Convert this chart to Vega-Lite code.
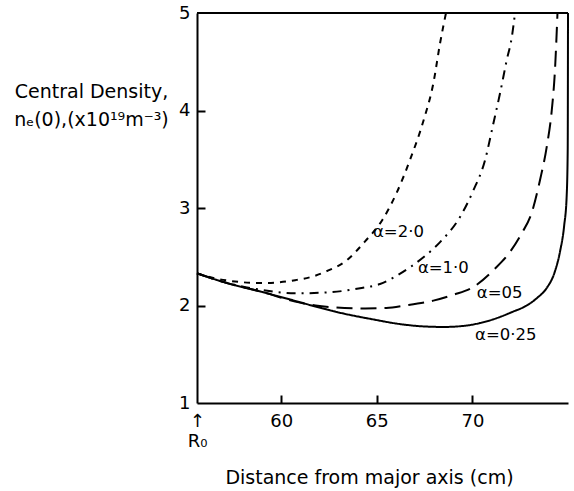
{
  "$schema": "https://vega.github.io/schema/vega-lite/v6.json",
  "width": 371,
  "height": 390,
  "autosize": {"type": "none"},
  "padding": {"left": 197, "top": 13, "right": 6, "bottom": 88},
  "background": "white",
  "config": {
    "view": {"stroke": null},
    "font": "DejaVu Sans",
    "axis": {
      "grid": false,
      "domainColor": "black",
      "domainWidth": 2,
      "labelColor": "black",
      "labelFont": "DejaVu Sans",
      "labelFontSize": 18,
      "titleFont": "DejaVu Sans",
      "titleFontSize": 19,
      "titleFontWeight": "normal",
      "titleColor": "black",
      "labelFlush": false,
      "labelOverlap": false,
      "labelBound": false
    }
  },
  "resolve": {"axis": {"x": "independent", "y": "independent"}},
  "datasets": {
    "curves": [
      {"a": "frame", "x": 55.6, "y": 5.0},
      {"a": "frame", "x": 75.0, "y": 5.0},
      {"a": "0.25", "x": 55.6, "y": 2.33},
      {"a": "0.25", "x": 57.0, "y": 2.24},
      {"a": "0.25", "x": 58.98, "y": 2.14},
      {"a": "0.25", "x": 60.5, "y": 2.06},
      {"a": "0.25", "x": 61.6, "y": 2.0},
      {"a": "0.25", "x": 63.2, "y": 1.92},
      {"a": "0.25", "x": 64.74, "y": 1.86},
      {"a": "0.25", "x": 66.2, "y": 1.81},
      {"a": "0.25", "x": 67.5, "y": 1.785},
      {"a": "0.25", "x": 68.5, "y": 1.78},
      {"a": "0.25", "x": 69.5, "y": 1.79},
      {"a": "0.25", "x": 70.4, "y": 1.82},
      {"a": "0.25", "x": 71.27, "y": 1.87},
      {"a": "0.25", "x": 72.1, "y": 1.935},
      {"a": "0.25", "x": 72.84, "y": 2.0},
      {"a": "0.25", "x": 73.4, "y": 2.08},
      {"a": "0.25", "x": 73.89, "y": 2.18},
      {"a": "0.25", "x": 74.3, "y": 2.34},
      {"a": "0.25", "x": 74.59, "y": 2.56},
      {"a": "0.25", "x": 74.8, "y": 2.82},
      {"a": "0.25", "x": 74.93, "y": 3.12},
      {"a": "0.25", "x": 74.985, "y": 3.6},
      {"a": "0.25", "x": 75.0, "y": 5.0},
      {"a": "0.5", "x": 55.6, "y": 2.33},
      {"a": "0.5", "x": 57.0, "y": 2.24},
      {"a": "0.5", "x": 58.98, "y": 2.14},
      {"a": "0.5", "x": 60.73, "y": 2.04},
      {"a": "0.5", "x": 61.8, "y": 2.0},
      {"a": "0.5", "x": 62.82, "y": 1.98},
      {"a": "0.5", "x": 64.39, "y": 1.97},
      {"a": "0.5", "x": 65.5, "y": 1.975},
      {"a": "0.5", "x": 66.5, "y": 2.0},
      {"a": "0.5", "x": 67.96, "y": 2.05},
      {"a": "0.5", "x": 69.0, "y": 2.11},
      {"a": "0.5", "x": 70.05, "y": 2.19},
      {"a": "0.5", "x": 71.19, "y": 2.38},
      {"a": "0.5", "x": 71.97, "y": 2.55},
      {"a": "0.5", "x": 72.58, "y": 2.74},
      {"a": "0.5", "x": 73.1, "y": 2.95},
      {"a": "0.5", "x": 73.54, "y": 3.29},
      {"a": "0.5", "x": 73.89, "y": 3.63},
      {"a": "0.5", "x": 74.15, "y": 4.0},
      {"a": "0.5", "x": 74.32, "y": 4.42},
      {"a": "0.5", "x": 74.45, "y": 5.0},
      {"a": "1.0", "x": 55.6, "y": 2.33},
      {"a": "1.0", "x": 57.2, "y": 2.23},
      {"a": "1.0", "x": 58.98, "y": 2.16},
      {"a": "1.0", "x": 60.73, "y": 2.125},
      {"a": "1.0", "x": 62.47, "y": 2.135},
      {"a": "1.0", "x": 64.21, "y": 2.18},
      {"a": "1.0", "x": 65.17, "y": 2.22},
      {"a": "1.0", "x": 66.0, "y": 2.3},
      {"a": "1.0", "x": 66.8, "y": 2.4},
      {"a": "1.0", "x": 67.6, "y": 2.52},
      {"a": "1.0", "x": 68.31, "y": 2.65},
      {"a": "1.0", "x": 69.36, "y": 2.91},
      {"a": "1.0", "x": 70.05, "y": 3.18},
      {"a": "1.0", "x": 70.66, "y": 3.49},
      {"a": "1.0", "x": 71.1, "y": 3.87},
      {"a": "1.0", "x": 71.45, "y": 4.18},
      {"a": "1.0", "x": 71.8, "y": 4.52},
      {"a": "1.0", "x": 72.06, "y": 4.75},
      {"a": "1.0", "x": 72.23, "y": 5.0},
      {"a": "2.0", "x": 55.6, "y": 2.33},
      {"a": "2.0", "x": 56.5, "y": 2.28},
      {"a": "2.0", "x": 57.24, "y": 2.255},
      {"a": "2.0", "x": 58.98, "y": 2.23},
      {"a": "2.0", "x": 60.73, "y": 2.26},
      {"a": "2.0", "x": 61.7, "y": 2.3},
      {"a": "2.0", "x": 62.47, "y": 2.36},
      {"a": "2.0", "x": 63.34, "y": 2.45},
      {"a": "2.0", "x": 64.4, "y": 2.66},
      {"a": "2.0", "x": 65.3, "y": 2.88},
      {"a": "2.0", "x": 66.05, "y": 3.16},
      {"a": "2.0", "x": 66.75, "y": 3.5},
      {"a": "2.0", "x": 67.45, "y": 3.9},
      {"a": "2.0", "x": 67.96, "y": 4.28},
      {"a": "2.0", "x": 68.31, "y": 4.69},
      {"a": "2.0", "x": 68.62, "y": 5.0}
    ],
    "labels": [
      {"x": 64.8, "y": 2.754, "t": "α=2·0"},
      {"x": 67.15, "y": 2.385, "t": "α=1·0"},
      {"x": 70.23, "y": 2.128, "t": "α=05"},
      {"x": 70.14, "y": 1.70, "t": "α=0·25"}
    ]
  },
  "layer": [
    {
      "data": {"name": "curves"},
      "mark": {"type": "line", "interpolate": "monotone", "color": "black", "strokeWidth": 2, "clip": false},
      "encoding": {
        "x": {
          "field": "x", "type": "quantitative",
          "scale": {"domain": [55.6, 75], "nice": false, "zero": false},
          "axis": {
            "orient": "bottom",
            "values": [55.6, 60, 65, 70],
            "labelExpr": "datum.value < 56 ? ['↑', 'R₀'] : datum.label",
            "ticks": true,
            "tickSize": 0,
            "labelPadding": 9,
            "labelLineHeight": 20,
            "title": "Distance from major axis (cm)",
            "titleX": 172,
            "titleY": 74,
            "titleBaseline": "middle",
            "titleAlign": "center"
          }
        },
        "y": {
          "field": "y", "type": "quantitative",
          "scale": {"domain": [1, 5], "nice": false, "zero": false},
          "axis": {
            "orient": "left",
            "values": [1, 2, 3, 4, 5],
            "format": "d",
            "ticks": true,
            "tickSize": 0,
            "labelPadding": 7,
            "title": ["Central Density,", "nₑ(0),(x10¹⁹m⁻³)"],
            "titleAngle": 0,
            "titleAlign": "center",
            "titleBaseline": "middle",
            "titleLineHeight": 28,
            "titleX": -106,
            "titleY": 78
          }
        },
        "detail": {"field": "a", "type": "nominal"},
        "strokeDash": {
          "field": "a", "type": "nominal",
          "scale": {"domain": ["frame", "0.25", "0.5", "1.0", "2.0"], "range": [[1, 0], [1, 0], [16, 8], [9, 6, 2, 6], [6, 6]]},
          "legend": null
        }
      }
    },
    {
      "data": {"name": "labels"},
      "mark": {"type": "text", "align": "left", "baseline": "middle", "fontSize": 16.5, "color": "black"},
      "encoding": {
        "x": {
          "field": "x", "type": "quantitative",
          "axis": {"orient": "top", "offset": -390, "values": [60, 65, 70], "domain": false, "labels": false, "ticks": true, "tickSize": 8, "tickColor": "black", "tickWidth": 2, "title": null}
        },
        "y": {
          "field": "y", "type": "quantitative",
          "axis": {"orient": "right", "offset": -371, "values": [2, 3, 4], "domain": false, "labels": false, "ticks": true, "tickSize": 8, "tickColor": "black", "tickWidth": 2, "title": null}
        },
        "text": {"field": "t"}
      }
    }
  ]
}
